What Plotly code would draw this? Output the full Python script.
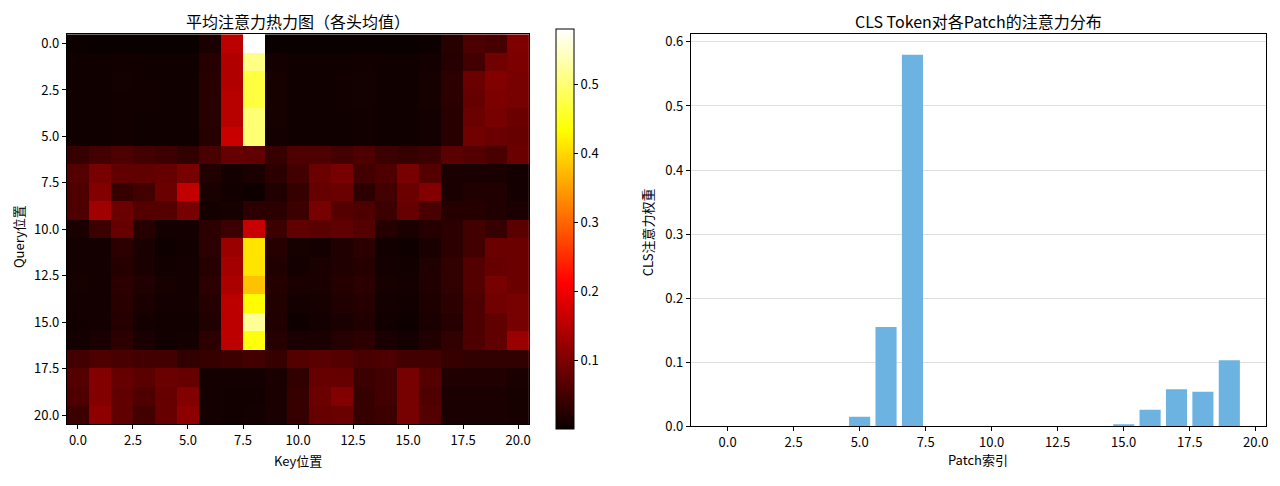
import plotly.graph_objects as go

# Average attention matrix (Query rows x Key columns), 21 x 21
attn = [
    [0.004, 0.001, 0.001, 0.001, 0.001, 0.001, 0.015, 0.155, 0.580, 0.001, 0.001, 0.001, 0.001, 0.001, 0.001, 0.001, 0.003, 0.026, 0.058, 0.054, 0.103],
    [0.006, 0.006, 0.008, 0.007, 0.006, 0.006, 0.025, 0.145, 0.510, 0.010, 0.006, 0.006, 0.007, 0.008, 0.006, 0.006, 0.010, 0.025, 0.050, 0.090, 0.100],
    [0.006, 0.006, 0.009, 0.008, 0.006, 0.006, 0.028, 0.145, 0.470, 0.012, 0.006, 0.006, 0.008, 0.009, 0.007, 0.006, 0.012, 0.030, 0.085, 0.105, 0.095],
    [0.006, 0.006, 0.008, 0.008, 0.006, 0.006, 0.028, 0.150, 0.470, 0.012, 0.006, 0.006, 0.008, 0.009, 0.006, 0.006, 0.012, 0.030, 0.080, 0.100, 0.095],
    [0.006, 0.006, 0.008, 0.007, 0.006, 0.006, 0.026, 0.150, 0.500, 0.011, 0.006, 0.006, 0.007, 0.008, 0.006, 0.006, 0.010, 0.028, 0.085, 0.095, 0.085],
    [0.006, 0.006, 0.008, 0.007, 0.006, 0.006, 0.025, 0.165, 0.500, 0.010, 0.006, 0.006, 0.007, 0.008, 0.006, 0.006, 0.010, 0.028, 0.090, 0.085, 0.080],
    [0.040, 0.050, 0.060, 0.050, 0.045, 0.035, 0.055, 0.080, 0.075, 0.040, 0.060, 0.060, 0.050, 0.060, 0.045, 0.040, 0.045, 0.070, 0.065, 0.055, 0.085],
    [0.065, 0.095, 0.075, 0.075, 0.080, 0.095, 0.020, 0.010, 0.015, 0.030, 0.050, 0.085, 0.095, 0.050, 0.060, 0.095, 0.065, 0.015, 0.015, 0.015, 0.010],
    [0.060, 0.105, 0.040, 0.050, 0.085, 0.160, 0.015, 0.008, 0.005, 0.020, 0.040, 0.080, 0.085, 0.030, 0.050, 0.085, 0.105, 0.015, 0.020, 0.020, 0.010],
    [0.060, 0.130, 0.085, 0.065, 0.065, 0.095, 0.010, 0.012, 0.030, 0.030, 0.045, 0.095, 0.065, 0.060, 0.045, 0.080, 0.055, 0.025, 0.025, 0.020, 0.015],
    [0.015, 0.045, 0.080, 0.025, 0.010, 0.010, 0.030, 0.045, 0.165, 0.045, 0.075, 0.070, 0.075, 0.065, 0.025, 0.015, 0.025, 0.030, 0.050, 0.040, 0.070],
    [0.010, 0.010, 0.030, 0.015, 0.005, 0.008, 0.030, 0.125, 0.410, 0.025, 0.012, 0.010, 0.020, 0.030, 0.008, 0.005, 0.015, 0.030, 0.050, 0.085, 0.085],
    [0.010, 0.010, 0.025, 0.015, 0.008, 0.010, 0.025, 0.135, 0.410, 0.020, 0.010, 0.015, 0.020, 0.025, 0.010, 0.008, 0.020, 0.035, 0.065, 0.080, 0.085],
    [0.012, 0.010, 0.030, 0.020, 0.012, 0.010, 0.030, 0.140, 0.380, 0.025, 0.015, 0.015, 0.025, 0.030, 0.012, 0.010, 0.020, 0.035, 0.065, 0.095, 0.085],
    [0.010, 0.010, 0.028, 0.015, 0.010, 0.010, 0.025, 0.155, 0.430, 0.022, 0.010, 0.012, 0.020, 0.025, 0.010, 0.008, 0.018, 0.030, 0.060, 0.090, 0.095],
    [0.008, 0.010, 0.025, 0.010, 0.008, 0.008, 0.020, 0.155, 0.520, 0.020, 0.005, 0.010, 0.015, 0.020, 0.008, 0.005, 0.015, 0.025, 0.060, 0.075, 0.095],
    [0.010, 0.015, 0.030, 0.015, 0.008, 0.010, 0.030, 0.155, 0.440, 0.025, 0.015, 0.015, 0.025, 0.030, 0.015, 0.010, 0.020, 0.035, 0.060, 0.075, 0.125],
    [0.050, 0.060, 0.055, 0.050, 0.050, 0.035, 0.040, 0.045, 0.050, 0.040, 0.065, 0.070, 0.065, 0.055, 0.060, 0.050, 0.050, 0.040, 0.035, 0.035, 0.035],
    [0.065, 0.105, 0.080, 0.070, 0.085, 0.080, 0.010, 0.010, 0.010, 0.015, 0.035, 0.080, 0.080, 0.045, 0.050, 0.095, 0.065, 0.020, 0.020, 0.020, 0.015],
    [0.060, 0.105, 0.075, 0.060, 0.080, 0.105, 0.010, 0.008, 0.008, 0.015, 0.040, 0.085, 0.105, 0.040, 0.050, 0.095, 0.060, 0.015, 0.015, 0.015, 0.012],
    [0.045, 0.115, 0.075, 0.050, 0.080, 0.115, 0.010, 0.008, 0.010, 0.015, 0.040, 0.080, 0.085, 0.040, 0.045, 0.095, 0.065, 0.015, 0.015, 0.015, 0.012],
]

# CLS token attention to each patch (indices 0..19)
patch_idx = list(range(20))
cls_weights = [0.0, 0.0, 0.0, 0.0, 0.0, 0.015, 0.155, 0.580, 0.0, 0.0,
               0.0, 0.0, 0.0, 0.0, 0.0, 0.003, 0.026, 0.058, 0.054, 0.103]

tick_vals = [0, 2.5, 5, 7.5, 10, 12.5, 15, 17.5, 20]
tick_text = ["0.0", "2.5", "5.0", "7.5", "10.0", "12.5", "15.0", "17.5", "20.0"]
cbar_vals = [0.1, 0.2, 0.3, 0.4, 0.5]
bar_yvals = [0, 0.1, 0.2, 0.3, 0.4, 0.5, 0.6]

FONT = "Noto Sans CJK SC"
W, H = 1280, 486
TICK = 13
LABEL = 13
TITLE = 16

hot = [
    [0.0, "rgb(10,0,0)"],
    [0.365079, "rgb(255,0,0)"],
    [0.746032, "rgb(255,255,0)"],
    [1.0, "rgb(255,255,255)"],
]

fig = go.Figure()

fig.add_trace(go.Heatmap(
    z=attn,
    x=list(range(21)),
    y=list(range(21)),
    colorscale=hot,
    xaxis="x", yaxis="y",
    colorbar=dict(
        x=557 / W, xanchor="left", xpad=0,
        y=(H - 232) / H, yanchor="middle", ypad=0,
        lenmode="pixels", len=400,
        thickness=18,
        outlinewidth=1, outlinecolor="black",
        tickvals=cbar_vals, ticktext=[f"{v:.1f}" for v in cbar_vals],
        ticks="outside", ticklen=4, tickcolor="black",
        tickfont=dict(family=FONT, size=TICK, color="black"),
    ),
))

fig.add_trace(go.Bar(
    x=patch_idx,
    y=cls_weights,
    width=0.8,
    marker=dict(color="rgb(108,179,226)", line=dict(width=0)),
    xaxis="x2", yaxis="y2",
    showlegend=False,
))

axis_common = dict(
    showline=True, linecolor="black", linewidth=1, mirror=True,
    ticks="outside", ticklen=4, tickcolor="black",
    tickfont=dict(family=FONT, size=TICK, color="black"),
    zeroline=False,
)

def ann(text, x, y, size, angle=0):
    return dict(text=text, x=x / W, y=(H - y) / H, xref="paper", yref="paper",
                showarrow=False, xanchor="center", yanchor="middle", textangle=angle,
                font=dict(family=FONT, size=size, color="black"))

fig.update_layout(
    width=W, height=H,
    margin=dict(l=0, r=0, t=0, b=0),
    paper_bgcolor="white", plot_bgcolor="white",
    showlegend=False,
    font=dict(family=FONT, color="black"),
    xaxis=dict(domain=[67 / W, 530 / W], range=[-0.5, 20.5],
               tickvals=tick_vals, ticktext=tick_text, showgrid=False,
               anchor="y", **axis_common),
    yaxis=dict(domain=[(H - 432) / H, (H - 32) / H], range=[20.5, -0.5],
               tickvals=tick_vals, ticktext=tick_text, showgrid=False,
               anchor="x", **axis_common),
    xaxis2=dict(domain=[692 / W, 1268 / W], range=[-1.39, 20.39],
                tickvals=tick_vals, ticktext=tick_text, showgrid=False,
                anchor="y2", **axis_common),
    yaxis2=dict(domain=[(H - 434) / H, (H - 32) / H], range=[0, 0.612],
                tickvals=bar_yvals, ticktext=[f"{v:.1f}" for v in bar_yvals],
                showgrid=True, gridcolor="rgba(0,0,0,0.12)", gridwidth=1,
                anchor="x2", **axis_common),
    annotations=[
        ann("平均注意力热力图（各头均值）", (67 + 530) / 2, 18, TITLE),
        ann("CLS Token对各Patch的注意力分布", (692 + 1268) / 2, 18, TITLE),
        ann("Key位置", (67 + 530) / 2, 469, LABEL),
        ann("Query位置", 18, 239, LABEL, -90),
        ann("Patch索引", (692 + 1268) / 2, 468, LABEL),
        ann("CLS注意力权重", 648, 235, LABEL, -90),
    ],
)

fig.write_html("out.html")
